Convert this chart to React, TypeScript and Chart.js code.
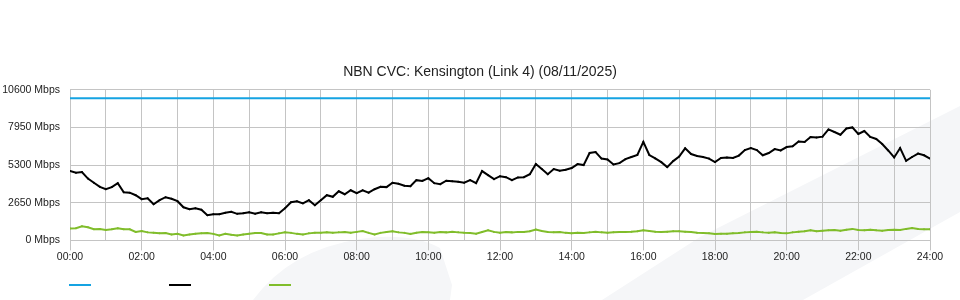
import React, { useEffect, useRef } from "react";
import { Chart, registerables } from "chart.js";

Chart.register(...registerables);

const TITLE = "NBN CVC: Kensington (Link 4) (08/11/2025)";

// x-axis tick labels (hour ticks, labelled every 2 hours)
const HOUR_LABELS = [
  "00:00", "01:00", "02:00", "03:00", "04:00", "05:00", "06:00", "07:00", "08:00",
  "09:00", "10:00", "11:00", "12:00", "13:00", "14:00", "15:00", "16:00", "17:00",
  "18:00", "19:00", "20:00", "21:00", "22:00", "23:00", "24:00",
];
const Y_MAX = 10600;
const Y_STEP = 2650;

// 10-minute samples over the day (hours)
const SAMPLE_HOURS: number[] = Array.from({ length: 145 }, (_, i) => i / 6);

// capacity line (Mbps)
const capacityHours = [0, 24];
const capacityMbps = [10000, 10000];

// black series (Mbps), one value per 10 minutes
const downloadMbps = [
  4880, 4760, 4810, 4350, 4060, 3770, 3600, 3750, 4030, 3390,
  3360, 3180, 2900, 2970, 2540, 2830, 3040, 2930, 2760, 2330,
  2190, 2260, 2160, 1770, 1840, 1840, 1940, 2010, 1870, 1910,
  1980, 1870, 1980, 1910, 1940, 1910, 2260, 2690, 2760, 2610,
  2830, 2470, 2830, 3180, 3070, 3460, 3250, 3530, 3320, 3530,
  3360, 3600, 3770, 3750, 4060, 3990, 3850, 3820, 4240, 4190,
  4380, 4030, 3960, 4200, 4170, 4130, 4060, 4240, 4030, 4880,
  4590, 4310, 4520, 4450, 4240, 4430, 4450, 4660, 5370, 5020,
  4660, 5020, 4910, 4980, 5090, 5370, 5300, 6150, 6220, 5760,
  5690, 5340, 5440, 5720, 5870, 6010, 6930, 6010, 5770, 5510,
  5160, 5580, 5900, 6480, 6080, 5940, 5870, 5760, 5510, 5800,
  5830, 5800, 5970, 6360, 6500, 6360, 5990, 6150, 6430, 6330,
  6570, 6620, 6960, 6930, 7280, 7240, 7300, 7810, 7630, 7440,
  7880, 7950, 7490, 7700, 7280, 7140, 6780, 6330, 5840, 6500,
  5600, 5870, 6110, 5990, 5760,
];

// green series (Mbps), one value per 10 minutes
const uploadMbps = [
  830, 850, 990, 920, 780, 800, 740, 780, 850, 780,
  780, 600, 660, 565, 530, 495, 520, 420, 470, 350,
  420, 470, 495, 520, 460, 350, 460, 390, 350, 420,
  470, 520, 520, 420, 420, 495, 565, 530, 460, 420,
  495, 545, 545, 565, 530, 565, 590, 545, 600, 660,
  530, 420, 530, 590, 640, 565, 530, 460, 545, 590,
  565, 545, 590, 565, 600, 565, 530, 520, 470, 590,
  710, 600, 545, 590, 565, 600, 600, 640, 760, 660,
  590, 565, 590, 530, 495, 545, 520, 565, 600, 565,
  545, 565, 590, 600, 615, 640, 710, 660, 615, 590,
  615, 640, 640, 615, 590, 545, 520, 495, 445, 470,
  470, 495, 520, 565, 590, 615, 565, 530, 565, 520,
  495, 565, 615, 640, 710, 640, 685, 710, 730, 685,
  755, 810, 730, 710, 755, 710, 685, 730, 755, 730,
  810, 880, 810, 780, 780,
];

const BLUE = "#15a3e2";
const BLACK = "#000000";
const GREEN = "#80bd2b";
const GRID = "#c4c4c4";
const TEXT = "#222222";
const FONT = "'Liberation Sans', Arial, Helvetica, sans-serif";

const watermarkPlugin = {
  id: "watermark",
  beforeDraw(chart: any) {
    const ctx = chart.ctx;
    ctx.save();
    ctx.fillStyle = "#f5f6f8";
    ctx.beginPath();
    ctx.moveTo(960, 106);
    ctx.lineTo(700, 237);
    ctx.lineTo(602, 300);
    ctx.lineTo(803, 300);
    ctx.lineTo(960, 212);
    ctx.closePath();
    ctx.fill();
    ctx.beginPath();
    ctx.moveTo(253, 300);
    ctx.quadraticCurveTo(290, 250, 360, 239);
    ctx.quadraticCurveTo(410, 232, 440, 248);
    ctx.lineTo(452, 285);
    ctx.lineTo(450, 300);
    ctx.closePath();
    ctx.fill();
    ctx.restore();
  },
};

const swatchLegendPlugin = {
  id: "swatchLegend",
  afterDraw(chart: any) {
    const ctx = chart.ctx;
    ctx.save();
    chart.data.datasets.forEach((ds: any, i: number) => {
      ctx.fillStyle = ds.borderColor;
      ctx.fillRect(69 + i * 100, 284, 22, 2);
    });
    ctx.restore();
  },
};

export default function App() {
  const ref = useRef<HTMLCanvasElement | null>(null);

  useEffect(() => {
    document.body.style.margin = "0";
    const canvas = ref.current;
    if (!canvas) return;
    const chart = new Chart(canvas, {
      type: "line",
      data: {
        datasets: [
          {
            label: "",
            data: capacityHours.map((h, i) => ({ x: h, y: capacityMbps[i] })),
            borderColor: BLUE,
            backgroundColor: BLUE,
            borderWidth: 2,
            pointRadius: 0,
          },
          {
            label: "",
            data: SAMPLE_HOURS.map((h, i) => ({ x: h, y: downloadMbps[i] })),
            borderColor: BLACK,
            backgroundColor: BLACK,
            borderWidth: 2,
            pointRadius: 1,
            pointBorderWidth: 0,
          },
          {
            label: "",
            data: SAMPLE_HOURS.map((h, i) => ({ x: h, y: uploadMbps[i] })),
            borderColor: GREEN,
            backgroundColor: GREEN,
            borderWidth: 2,
            pointRadius: 1,
            pointBorderWidth: 0,
          },
        ],
      },
      options: {
        responsive: false,
        animation: false,
        layout: { padding: { left: 0, right: 0, top: 0, bottom: 37 } },
        plugins: {
          legend: { display: false },
          tooltip: { enabled: false },
          title: {
            display: true,
            text: TITLE,
            color: TEXT,
            font: { family: FONT, size: 14, weight: "normal" },
            padding: { top: 64, bottom: 9 },
          },
        },
        scales: {
          x: {
            type: "linear",
            min: 0,
            max: 24,
            grid: {
              color: GRID,
              lineWidth: 1,
              drawTicks: true,
              tickLength: 10,
              tickColor: (c: any) =>
                c.tick && Math.round(c.tick.value) % 2 === 0 ? GRID : "rgba(0,0,0,0)",
            },
            border: { display: true, color: GRID },
            ticks: {
              stepSize: 1,
              autoSkip: false,
              maxRotation: 0,
              padding: 0,
              color: TEXT,
              font: { family: FONT, size: 10.5 },
              callback: (v: any) => {
                const n = Math.round(Number(v));
                return n % 2 === 0 ? HOUR_LABELS[n] : "";
              },
            },
          },
          y: {
            min: 0,
            max: Y_MAX,
            afterFit: (s: any) => {
              s.width = 70;
            },
            grid: { color: GRID, lineWidth: 1, drawTicks: false },
            border: { display: false },
            ticks: {
              stepSize: Y_STEP,
              padding: 10,
              color: TEXT,
              font: { family: FONT, size: 10.5 },
              callback: (v: any) => `${v} Mbps`,
            },
          },
          rightSpace: {
            type: "linear",
            position: "right",
            display: true,
            afterFit: (s: any) => {
              s.width = 30;
            },
            grid: { display: false, drawTicks: false },
            border: { display: false },
            ticks: { display: false },
          },
        },
      },
      plugins: [watermarkPlugin, swatchLegendPlugin],
    });
    return () => chart.destroy();
  }, []);

  return (
    <div style={{ width: 960, height: 300, background: "#ffffff" }}>
      <canvas ref={ref} width={960} height={300} style={{ display: "block" }} />
    </div>
  );
}
